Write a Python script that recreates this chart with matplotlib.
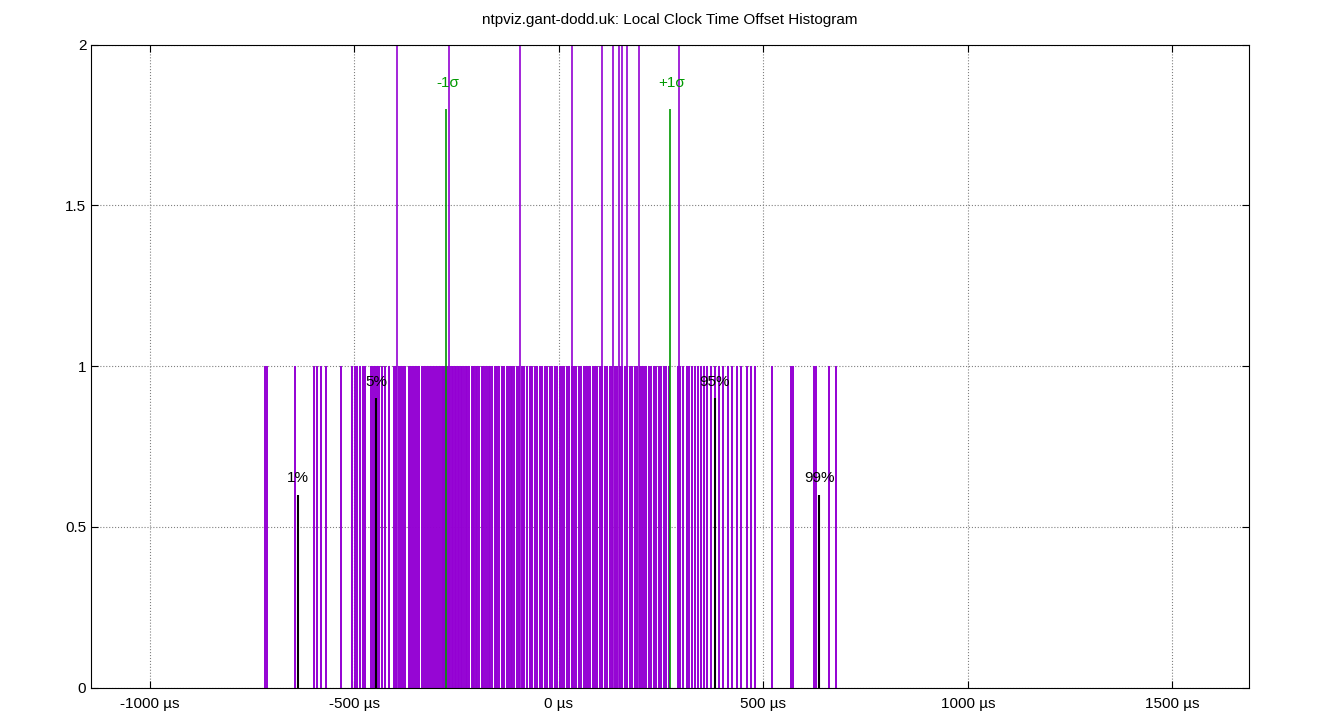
import numpy as np
import matplotlib
matplotlib.use("Agg")
import matplotlib.pyplot as plt
from matplotlib.ticker import FuncFormatter

plt.rcParams['font.family'] = ['Liberation Sans', 'DejaVu Sans']

# offsets (µs) of bins with a count of 1
ones = [-718, -713, -645, -599, -592, -582, -570, -533, -506, -499, -494, -487, -479, -474,
        -460, -455, -450, -445, -440, -433, -425, -416, -403, -399, -391, -386, -381, -377,
        -367, -362, -357, -352, -347, -342, -335, -330, -325, -320, -315, -310, -306, -301,
        -296, -291, -286, -283, -281, -278, -276, -273, -271, -268, -266, -262, -259, -255,
        -252, -247, -244, -240, -236, -233, -228, -224, -220, -213, -210, -208, -204, -200,
        -195, -188, -185, -181, -176, -172, -169, -164, -157, -154, -152, -147, -140, -137,
        -135, -128, -122, -118, -115, -110, -103, -98, -91, -88, -86, -78, -71, -68, -66, -59,
        -54, -47, -44, -42, -35, -30, -22, -17, -10, -5, 2, 7, 12, 19, 24, 31, 36, 41, 48, 53,
        60, 65, 72, 77, 84, 89, 94, 101, 106, 113, 118, 125, 130, 137, 142, 149, 154, 161,
        166, 173, 178, 185, 190, 197, 202, 209, 214, 221, 226, 233, 238, 245, 250, 257, 262,
        269, 291, 296, 303, 313, 318, 325, 333, 340, 347, 355, 362, 372, 382, 391, 401, 413,
        423, 435, 445, 460, 469, 479, 521, 567, 572, 623, 628, 660, 677]
# offsets (µs) of bins with a count of 2
twos = [-396, -269, -95, 32, 105, 132, 147, 155, 166, 195, 293]

pct_labels = ['1%', '5%', '95%', '99%']
pct_values = [-638, -447, 381, 636]
pct_heights = [0.6, 0.9, 0.9, 0.6]
sigma_labels = ['-1σ', '+1σ']
sigma_values = [-276, 271]

purple = '#9400d3'
fig, ax = plt.subplots(figsize=(13.4, 7.2), dpi=100)
fig.subplots_adjust(left=0.068, right=0.932, top=0.938, bottom=0.045)

ax.vlines(ones, 0, 1, color=purple, linewidth=1.4)
ax.vlines(twos, 0, 2, color=purple, linewidth=1.2)
for lab, v, h in zip(pct_labels, pct_values, pct_heights):
    ax.vlines(v, 0, h, color='black', linewidth=1.5)
    ax.text(v, h + 0.03, lab, ha='center', va='bottom', fontsize=11)
for lab, v in zip(sigma_labels, sigma_values):
    ax.vlines(v, 0, 1.8, color='#009900', linewidth=1.2)
    ax.text(v + 5, 1.86, lab, ha='center', va='bottom', fontsize=11, color='#009900')

ax.set_xlim(-1144, 1687)
ax.set_ylim(0, 2)
ax.set_xticks([-1000, -500, 0, 500, 1000, 1500])
ax.xaxis.set_major_formatter(FuncFormatter(lambda v, p: f'{int(v)} µs'))
ax.set_yticks([0, 0.5, 1, 1.5, 2])
ax.yaxis.set_major_formatter(FuncFormatter(lambda v, p: f'{v:g}'))
ax.tick_params(direction='in', labelsize=11, top=True, right=True, length=5)
ax.tick_params(axis='x', pad=7)
ax.grid(True, color='gray', linestyle=':', linewidth=0.8)
ax.set_axisbelow(True)
ax.set_title('ntpviz.gant-dodd.uk: Local Clock Time Offset Histogram', fontsize=11, pad=15)
fig.savefig('out.png')
